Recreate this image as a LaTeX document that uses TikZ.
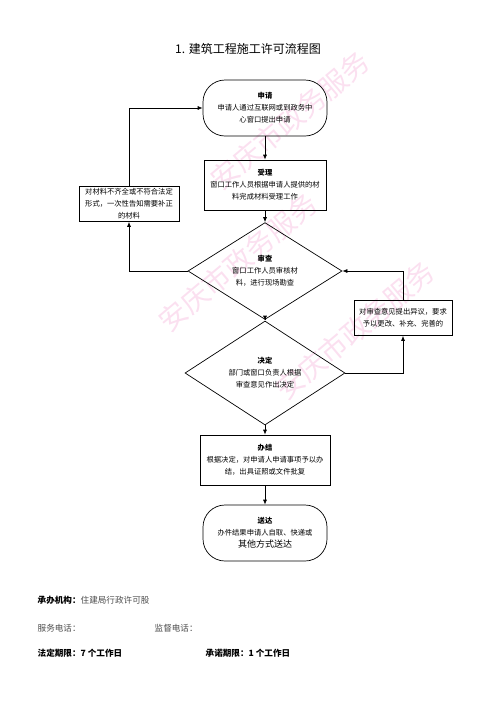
\documentclass[tikz,border=0pt]{standalone}
\usepackage{fontspec}
\newfontfamily\cjk{Noto Sans CJK SC}
\usetikzlibrary{shapes.geometric,arrows.meta}

\definecolor{wmpink}{RGB}{251,224,240}

\begin{document}
\begin{tikzpicture}[x=1pt,y=-1pt,
  every node/.style={font=\cjk\fontsize{7.3}{12}\selectfont},
  stadium/.style={draw,rounded corners=22pt,minimum width=124,minimum height=56,align=center,inner sep=0},
  stepbox/.style={draw,minimum width=122,minimum height=50,align=center,inner sep=0},
  sidebox/.style={draw,minimum width=100,minimum height=35,align=center,inner sep=0},
  check/.style={draw,diamond,minimum width=154,minimum height=77,align=center,inner sep=0},
  wmark/.style={text=wmpink,rotate=40,font=\cjk\fontsize{28}{28}\selectfont},
  foot/.style={anchor=west,font=\cjk\fontsize{8.6}{10}\selectfont},
  line width=0.7pt,>={Latex[length=5pt,width=4pt]}]

\useasboundingbox (0,0) rectangle (496,702);

\node[wmark] (wma) at (238,262) {安庆市政务服务};
\node[wmark] (wmb) at (290,120) {安庆市政务服务};
\node[wmark] (wmc) at (355,330) {安庆市政务服务};

\node[font=\cjk\fontsize{12}{14}\selectfont] (title) at (248,49) {1. 建筑工程施工许可流程图};

\node[stadium] (apply) at (265,108) {\textbf{申请}\\申请人通过互联网或到政务中\\心窗口提出申请};
\node[stepbox] (accept) at (265,185) {\textbf{受理}\\窗口工作人员根据申请人提供的材\\料完成材料受理工作};
\node[sidebox] (notify) at (129,204) {对材料不齐全或不符合法定\\形式，一次性告知需要补正\\的材料};
\node[check] (review) at (265,271) {\textbf{审查}\\窗口工作人员审核材\\料，进行现场勘查};
\node[sidebox,minimum width=98] (object) at (403,318) {对审查意见提出异议，要求\\予以更改、补充、完善的};
\node[check,minimum width=160] (decide) at (265,373) {\textbf{决定}\\部门或窗口负责人根据\\审查意见作出决定};
\node[stepbox,minimum width=130] (finish) at (265,460) {\textbf{办结}\\根据决定，对申请人申请事项予以办\\结，出具证照或文件批复};
\node[stadium] (deliver) at (265,533) {\textbf{送达}\\办件结果申请人自取、快递或\\{\fontsize{9}{12}\selectfont 其他方式送达}};

\draw[->] (apply) -- (accept);
\draw[->] (accept) -- (review);
\draw[->] (review) -- (decide);
\draw[->] (decide) -- (finish);
\draw[->] (finish) -- (deliver);
\draw[->] (review.west) -| (notify.south);
\draw[->] (notify.north) |- (apply.west);
\draw[->] (decide.east) -| (object.south);
\draw[->] (object.north) |- (review.east);

\node[foot] (agency) at (34,600) {\textbf{承办机构：}{\color{black!70}住建局行政许可股}};
\node[foot,text=black!70] (service) at (34,628) {服务电话：};
\node[foot,text=black!70] (monitor) at (151,628) {监督电话：};
\node[foot] (legal) at (34,653) {\textbf{法定期限：7 个工作日}};
\node[foot] (promise) at (202,653) {\textbf{承诺期限：1 个工作日}};
\end{tikzpicture}
\end{document}
